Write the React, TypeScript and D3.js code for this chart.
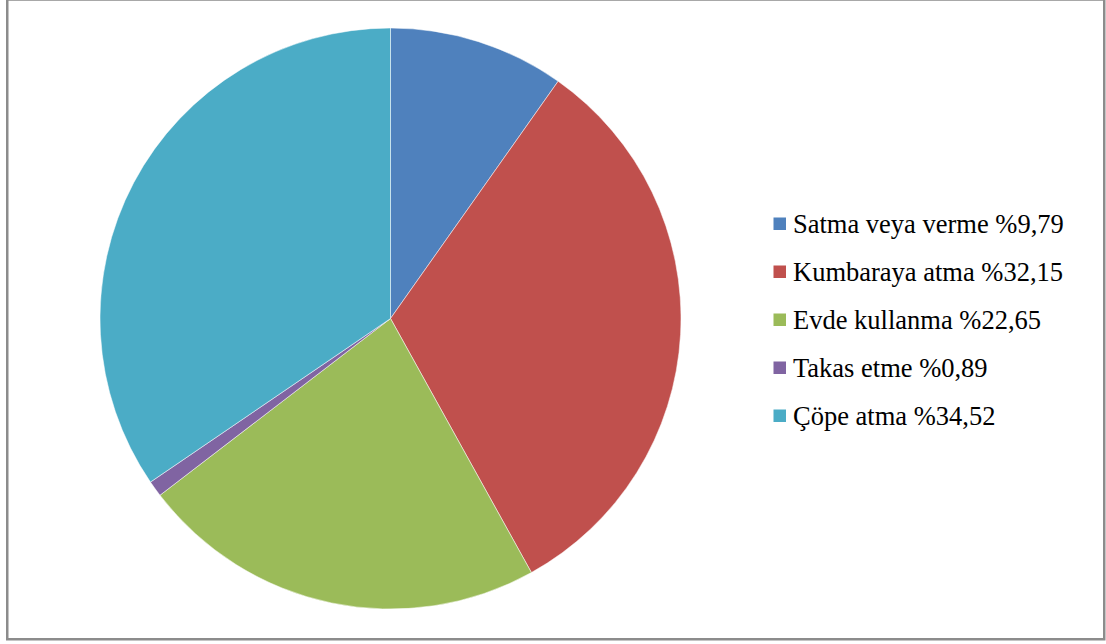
import React from "react";
import * as d3 from "d3";

const categories = ["Satma veya verme", "Kumbaraya atma", "Evde kullanma", "Takas etme", "Çöpe atma"];
const values = [9.79, 32.15, 22.65, 0.89, 34.52];
const labels = ["%9,79", "%32,15", "%22,65", "%0,89", "%34,52"];
const colors = ["#4F81BD", "#C0504D", "#9BBB59", "#8064A2", "#4BACC6"];

export default function App() {
  const W = 1106, H = 644;
  const cx = 390.5, cy = 318.5, r = 290.5;
  const pie = d3.pie<number>().sort(null).value((d) => d)(values);
  const arc = d3.arc<d3.PieArcDatum<number>>().innerRadius(0).outerRadius(r);
  const legendY = d3.scaleLinear().domain([0, 4]).range([233, 425]);
  return (
    <svg width={W} height={H} style={{ position: "absolute", left: 0, top: 0, background: "#fff" }}>
      <rect x={7.25} y={-0.5} width={1097} height={639.75} fill="#fff" stroke="#8c8c8c" strokeWidth={2.5} />
      <g transform={`translate(${cx},${cy})`}>
        {pie.map((p, i) => (
          <path key={i} d={arc(p) || ""} fill={colors[i]} stroke="#fff" strokeWidth={0.5} />
        ))}
      </g>
      <g fill="#000">
        {categories.map((c, i) => (
          <g key={i} transform={`translate(0,${legendY(i)})`}>
            <rect x={773.5} y={-15.5} width={12.5} height={12.5} fill={colors[i]} />
            <text x={793} y={0} style={{ fontFamily: "Liberation Serif", fontSize: "26.5px" }}>{`${c} ${labels[i]}`}</text>
          </g>
        ))}
      </g>
    </svg>
  );
}
